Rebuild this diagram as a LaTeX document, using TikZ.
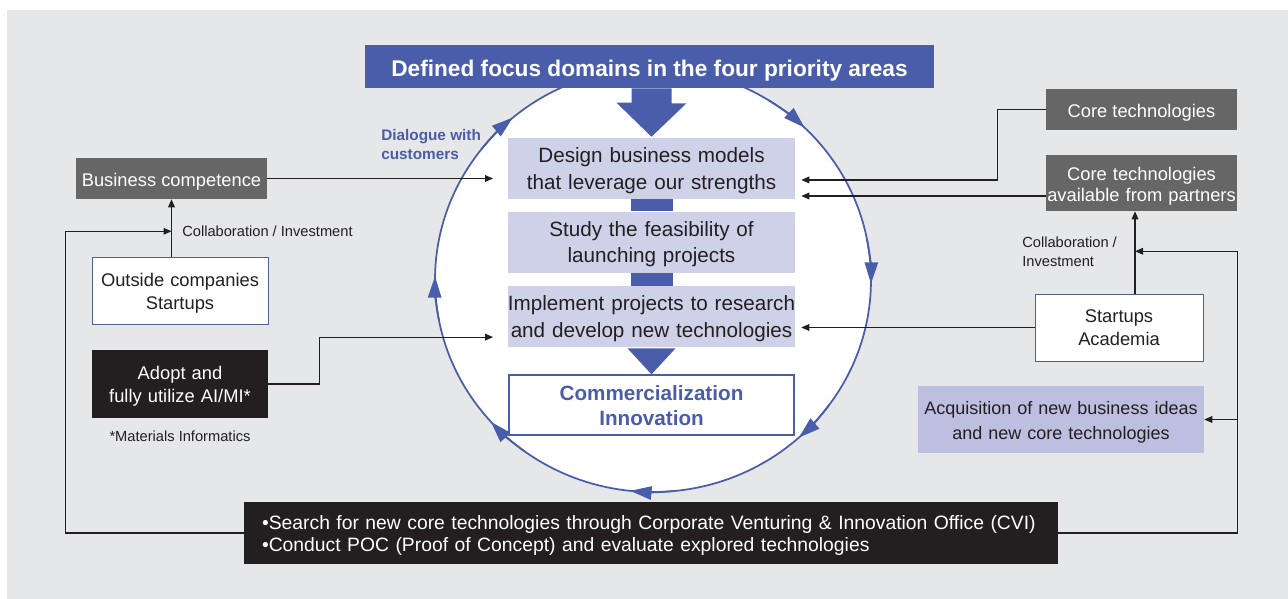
\documentclass[tikz,border=0pt]{standalone}
\usepackage{fontspec}
\setmainfont{Liberation Sans}
\usetikzlibrary{positioning,arrows.meta,calc}
\definecolor{PanelGray}{RGB}{230,231,233}
\definecolor{FocusBlue}{RGB}{74,93,170}
\definecolor{StepLilac}{RGB}{207,209,232}
\definecolor{IdeaLilac}{RGB}{189,190,224}
\definecolor{SlateBox}{RGB}{102,102,102}
\definecolor{InkBlack}{RGB}{35,31,32}
\definecolor{EdgeSlate}{RGB}{84,96,140}
\tikzset{
  flow/.style={-{Triangle[length=6pt,width=5pt]},draw=InkBlack,line width=0.9pt},
  ring/.style={draw=FocusBlue,line width=1.3pt},
  drop/.style={execute at begin node={\rule{0pt}{#1}}},
  titlebox/.style={fill=FocusBlue,text=white,inner sep=0pt,drop=18.4pt,
    minimum width=426.75pt,minimum height=32.25pt,font=\bfseries\fontsize{17}{20}\selectfont},
  stepbox/.style={fill=StepLilac,text=InkBlack,inner ysep=0pt,inner xsep=-5pt,align=center,drop=14.6pt,
    text width=225.25pt,minimum height=45.75pt,font=\fontsize{15.5}{20}\selectfont},
  goalbox/.style={draw=FocusBlue,line width=1.5pt,fill=white,text=FocusBlue,inner sep=0pt,align=center,
    minimum width=213.75pt,minimum height=45pt,font=\bfseries\fontsize{15.5}{18.5}\selectfont},
  greybox/.style={fill=SlateBox,text=white,inner sep=0pt,align=center,drop=14.5pt,
    minimum width=143.25pt,font=\fontsize{13.75}{16}\selectfont},
  whitebox/.style={fill=white,draw=EdgeSlate,line width=0.7pt,text=InkBlack,inner sep=0pt,align=center,
    minimum height=50.25pt,font=\fontsize{13.75}{17.5}\selectfont},
  blackbox/.style={fill=InkBlack,text=white,inner sep=0pt,align=center,
    font=\fontsize{13.75}{17.5}\selectfont},
  ideabox/.style={fill=IdeaLilac,text=InkBlack,inner sep=0pt,align=center,drop=14.4pt,
    text width=214.5pt,minimum height=50.25pt,font=\fontsize{13.5}{19}\selectfont},
  note/.style={text=InkBlack,inner sep=0pt,align=left,font=\fontsize{11}{14.25}\selectfont},
  dialogue/.style={text=FocusBlue,inner sep=0pt,align=left,font=\bfseries\fontsize{11.5}{14.25}\selectfont}
}

\begin{document}
\begin{tikzpicture}[x=0.75pt,y=-0.75pt]
  \useasboundingbox (0,0) rectangle (1288,599);
  \fill[PanelGray] (7,10) rectangle (1288,599);

  % the cycle
  \coordinate (hub) at (653,280);
  \filldraw[ring,fill=white] (hub) ellipse [x radius=218,y radius=212];
  \foreach \a in {181,230,314,361,408,456,498}
    \draw[ring,-{Triangle[length=16pt,width=10pt]}] (hub) ++(\a-12:218 and 212)
      arc[start angle=\a-12,end angle=\a,x radius=218,y radius=212];

  \node[titlebox] (focus) at (649.5,66.5) {Defined focus domains in the four priority areas};
  \node[stepbox] (design) at (651.5,168.5) {Design business models\\that leverage our strengths};
  \node[stepbox,below=9pt of design] (study) {Study the feasibility of\\launching projects};
  \node[stepbox,below=9.75pt of study] (implement) {Implement projects to research\\and develop new technologies};
  \node[goalbox,below=20.25pt of implement] (goal) {Commercialization\\Innovation};
  \fill[FocusBlue] ($(design.north |- focus.south)+(-20,0)$) -- ++(40,0) -- ++(0,15) -- ++(15,0)
    -- ($(design.north)+(0,-1)$) -- ($(design.north)+(-35,-35)$) -- ++(15,0) -- cycle;
  \fill[FocusBlue] ($(design.south)+(-21,0)$) rectangle ($(study.north)+(21,0)$);
  \fill[FocusBlue] ($(study.south)+(-21,0)$) rectangle ($(implement.north)+(21,0)$);
  \fill[FocusBlue] ($(implement.south)+(-24,1)$) -- ($(implement.south)+(24,1)$) -- (goal.north) -- cycle;
  \node[dialogue,anchor=west] (dialogue) at (381,145) {Dialogue with\\customers};

  % left side
  \node[greybox,minimum height=30.75pt] (bizcomp) at (171.5,178.5) {Business competence};
  \node[whitebox,drop=14.5pt,text width=132pt] (outside) at (180,290.5) {Outside companies\\Startups};
  \node[blackbox,drop=13.8pt,text width=132pt,minimum height=51pt] (adopt) at (180,384) {Adopt and\\fully utilize AI/MI*};
  \node[note] (footnote) at (180,436) {*Materials Informatics};
  \node[note,anchor=west] (collabL) at (182,231) {Collaboration / Investment};
  \draw[flow,shorten >=11pt] (bizcomp.east) -- (bizcomp.east -| design.west);
  \draw[flow] (bizcomp.south |- outside.north) -- (bizcomp.south);
  \draw[flow,shorten >=11pt] (adopt.east) -- ++(51,0) |- ([yshift=-15.4pt]implement.west);

  % right side
  \node[greybox,minimum height=30.75pt] (coretech) at (1141.5,109.5) {Core technologies};
  \node[greybox,text width=143.25pt,minimum height=42pt] (partners) at (1141.5,183) {Core technologies\\available from partners};
  \node[whitebox,minimum width=126pt] (startups) at (1119,327.5) {Startups\\Academia};
  \node[ideabox] (ideas) at (1061,419.5) {Acquisition of new business ideas\\and new core technologies};
  \node[note,anchor=west] (collabR) at (1022,252) {Collaboration /\\Investment};
  \draw[flow,shorten >=4.5pt] (coretech.west) -- ++(-48,0) |- ([yshift=-8.6pt]design.east);
  \draw[flow,shorten >=4.5pt] ([yshift=-9.75pt]partners.west) -- ([yshift=-9.75pt]partners.west -| design.east);
  \draw[flow,shorten >=4.5pt] (startups.west) -- (startups.west -| implement.east);
  \coordinate (riser) at ($(startups.north)+(16,0)$);
  \draw[flow] (riser) -- (riser |- partners.south);

  % bottom
  \node[blackbox,minimum width=610.5pt,minimum height=46.5pt,text width=583.5pt,inner xsep=13.5pt,
    align=left,drop=13.6pt,font=\fontsize{14.5}{16.5}\selectfont] (cvi) at (651,533)
    {\textbullet Search for new core technologies through Corporate Venturing \& Innovation Office (CVI)\\
     \textbullet Conduct POC (Proof of Concept) and evaluate explored technologies};
  \coordinate (joinL) at ($(bizcomp.south)+(0,32)$);
  \draw[flow] (cvi.west) -- ++(-178,0) |- (joinL);
  \coordinate (joinR) at ($(riser |- partners.south)+(0,40)$);
  \draw[flow] (cvi.east) -- ++(179,0) coordinate (bend) |- (joinR);
  \draw[flow] (ideas.east -| bend) -- (ideas.east);
\end{tikzpicture}
\end{document}
